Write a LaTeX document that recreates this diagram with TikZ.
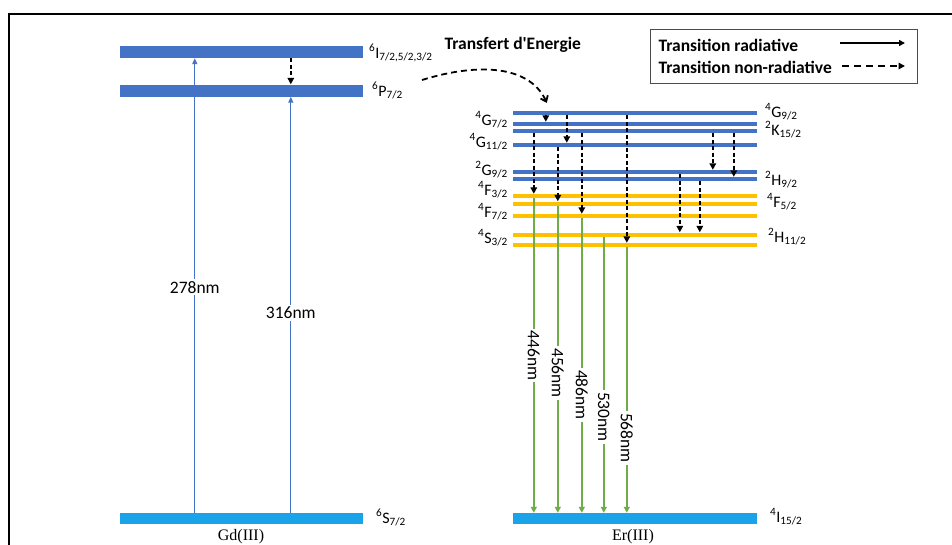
\documentclass[tikz,border=0pt]{standalone}
\usepackage{fontspec}
\setmainfont{Carlito}
\newfontfamily\timesf{Liberation Serif}
\usetikzlibrary{arrows.meta}
\definecolor{barblue}{HTML}{4472C4}
\definecolor{groundblue}{HTML}{1AA3E8}
\definecolor{baryellow}{HTML}{FFC000}
\definecolor{radgreen}{HTML}{70AD47}
\tikzset{
  gdbar/.style={fill=barblue, draw=none, minimum width=243pt, minimum height=12pt, inner sep=0pt},
  ground/.style={fill=groundblue, draw=none, minimum width=243pt, minimum height=11pt, inner sep=0pt},
  erblue/.style={fill=barblue, draw=none, minimum width=244pt, minimum height=4pt, inner sep=0pt},
  eryellow/.style={fill=baryellow, draw=none, minimum width=244pt, minimum height=4pt, inner sep=0pt},
  lvl/.style={font=\fontsize{16}{18}\selectfont, inner sep=0pt},
  absarrow/.style={draw=barblue, line width=1.3pt, -{Triangle[length=6pt,width=5pt]}},
  nonrad/.style={draw=black, line width=1.8pt, dash pattern=on 4pt off 2.5pt, -{Triangle[length=6.5pt,width=6.5pt]}},
  radarrow/.style={draw=radgreen, line width=1.8pt, -{Triangle[length=6pt,width=6pt]}},
  wl/.style={fill=white, inner sep=2pt, text=black, font=\fontsize{17.5}{19}\selectfont},
  bold/.style={font=\bfseries\fontsize{17.5}{19}\selectfont},
}
\begin{document}
\begin{tikzpicture}[x=1pt,y=-1pt]
\useasboundingbox (0,0) rectangle (952,544);
% frame
\draw[line width=2pt] (9,560) |- (970,14);

% ---------- Gd(III) ----------
\node[gdbar] (gI) at (241.5,52) {};
\node[gdbar] (gP) at (241.5,90.5) {};
\node[ground] (gS) at (241.5,518.5) {};
\node[lvl, anchor=base west] (lgI) at (369,58) {\textsuperscript{6}I\textsubscript{7/2,5/2,3/2}};
\node[lvl, anchor=base west] (lgP) at (372,96) {\textsuperscript{6}P\textsubscript{7/2}};
\node[lvl, anchor=base west] (lgS) at (376,523) {\textsuperscript{6}S\textsubscript{7/2}};
\node[font=\timesf\fontsize{16}{18}\selectfont, anchor=base] (gdname) at (241,540) {Gd(III)};

\draw[absarrow] ([xshift=75pt]gS.north west) -- node[wl, pos=0.496] {278nm} ([xshift=75pt]gI.south west);
\draw[absarrow] ([xshift=171pt]gS.north west) -- node[wl, pos=0.48] {316nm} ([xshift=171pt]gP.south west);
\draw[nonrad] ([xshift=171pt]gI.south west) -- ([xshift=171pt]gP.north west);

% ---------- Er(III) ----------
\node[erblue] (e1) at (635,113) {};
\node[erblue] (e2) at (635,124) {};
\node[erblue] (e3) at (635,131) {};
\node[erblue] (e4) at (635,145) {};
\node[erblue] (e5) at (635,172) {};
\node[erblue] (e6) at (635,179) {};
\node[eryellow] (y1) at (635,196) {};
\node[eryellow] (y2) at (635,203.5) {};
\node[eryellow] (y3) at (635,216) {};
\node[eryellow] (y4) at (635,234.5) {};
\node[eryellow] (y5) at (635,245) {};
\node[ground, minimum width=244pt] (e0) at (635,518.5) {};

% left labels
\node[lvl, anchor=base east] (l1) at (508,125) {\textsuperscript{4}G\textsubscript{7/2}};
\node[lvl, anchor=base east] (l2) at (508,147) {\textsuperscript{4}G\textsubscript{11/2}};
\node[lvl, anchor=base east] (l3) at (508,175) {\textsuperscript{2}G\textsubscript{9/2}};
\node[lvl, anchor=base east] (l4) at (508,195) {\textsuperscript{4}F\textsubscript{3/2}};
\node[lvl, anchor=base east] (l5) at (508,217) {\textsuperscript{4}F\textsubscript{7/2}};
\node[lvl, anchor=base east] (l6) at (508,243) {\textsuperscript{4}S\textsubscript{3/2}};
% right labels
\node[lvl, anchor=base west] (r1) at (765,117) {\textsuperscript{4}G\textsubscript{9/2}};
\node[lvl, anchor=base west] (r2) at (765,135) {\textsuperscript{2}K\textsubscript{15/2}};
\node[lvl, anchor=base west] (r3) at (765,185) {\textsuperscript{2}H\textsubscript{9/2}};
\node[lvl, anchor=base west] (r4) at (767,207) {\textsuperscript{4}F\textsubscript{5/2}};
\node[lvl, anchor=base west] (r5) at (768,242) {\textsuperscript{2}H\textsubscript{11/2}};
\node[lvl, anchor=base west] (r0) at (770,522) {\textsuperscript{4}I\textsubscript{15/2}};
\node[font=\timesf\fontsize{16}{18}\selectfont, anchor=base] (ername) at (633,540) {Er(III)};

% non-radiative relaxations
\draw[nonrad] ([xshift=33pt]e1.south west) -- ([xshift=33pt]e2.north west);
\draw[nonrad] ([xshift=54pt]e1.south west) -- ([xshift=54pt]e4.north west);
\draw[nonrad] ([xshift=21pt]e3.south west) -- ([xshift=21pt]y1.north west);
\draw[nonrad] ([xshift=45pt]e4.south west) -- ([xshift=45pt]y2.north west);
\draw[nonrad] ([xshift=69pt]e3.south west) -- ([xshift=69pt]y3.north west);
\draw[nonrad] ([xshift=114pt]e1.south west) -- ([xshift=114pt]y5.north west);
\draw[nonrad] ([xshift=167pt]e5.south west) -- ([xshift=167pt]y4.north west);
\draw[nonrad] ([xshift=187pt]e6.south west) -- ([xshift=187pt]y4.north west);
\draw[nonrad] ([xshift=200pt]e3.south west) -- ([xshift=200pt]e5.north west);
\draw[nonrad] ([xshift=221pt]e3.south west) -- ([xshift=221pt]e6.north west);

% radiative emissions
\draw[radarrow] ([xshift=21pt]y1.south west) -- node[wl, rotate=-90, pos=0.5] {446nm} ([xshift=21pt]e0.north west);
\draw[radarrow] ([xshift=45pt]y2.south west) -- node[wl, rotate=-90, pos=0.545] {456nm} ([xshift=45pt]e0.north west);
\draw[radarrow] ([xshift=69pt]y3.south west) -- node[wl, rotate=-90, pos=0.6] {486nm} ([xshift=69pt]e0.north west);
\draw[radarrow] ([xshift=91pt]y4.south west) -- node[wl, rotate=-90, pos=0.653] {530nm} ([xshift=91pt]e0.north west);
\draw[radarrow] ([xshift=114pt]y5.south west) -- node[wl, rotate=-90, pos=0.718] {568nm} ([xshift=114pt]e0.north west);

% energy transfer
\node[bold, anchor=west] (et) at (441,45) {Transfert d\textquotesingle Energie};
\coordinate (etstart) at (422,80);
\coordinate (etend) at ([xshift=34pt,yshift=8pt]e1.north west);
\draw[nonrad, line width=1.8pt, dash pattern=on 6pt off 4pt, -{Straight Barb[length=5pt,width=8pt,line width=1.8pt]}] (etstart) .. controls (480,62) and (530,66) .. (etend);

% legend
\node[draw=black!70, line width=0.8pt, minimum width=267pt, minimum height=54pt, inner sep=0pt] (leg) at (783.5,56) {};
\node[bold, anchor=west] (t1) at (655,45) {Transition radiative};
\node[bold, anchor=west] (t2) at (655,67) {Transition non-radiative};
\coordinate (a1s) at (840,43);
\coordinate (a1e) at (905,43);
\coordinate (a2s) at (842,66);
\coordinate (a2e) at (905,66);
\draw[line width=1.6pt, -{Triangle[length=6pt,width=6pt]}] (a1s) -- (a1e);
\draw[nonrad, line width=1.6pt, dash pattern=on 7pt off 5pt] (a2s) -- (a2e);
\end{tikzpicture}
\end{document}
